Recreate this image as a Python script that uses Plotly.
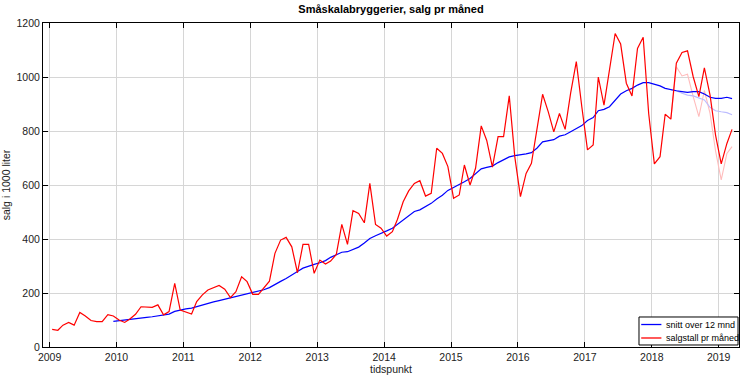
import pandas as pd
import plotly.graph_objects as go

title = "Småskalabryggerier, salg pr måned"
x_title = "tidspunkt"
y_title = "salg i 1000 liter"
name_avg = "snitt over 12 mnd"
name_sales = "salgstall pr måned"

# monthly sales, Jan 2009 - Mar 2019 (1000 liter)
sales = [
    65, 62, 81, 91, 81, 128, 115, 98, 94, 94, 120, 115,
    100, 91, 104, 121, 149, 149, 147, 156, 119, 131, 236, 137,
    130, 122, 168, 193, 211, 221, 228, 214, 183, 205, 260, 242,
    195, 195, 217, 244, 347, 396, 406, 371, 275, 380, 380, 273,
    322, 307, 318, 343, 454, 380, 505, 495, 460, 606, 454, 440,
    411, 427, 473, 538, 578, 606, 616, 559, 569, 736, 717, 668,
    551, 563, 674, 600, 662, 819, 765, 666, 779, 779, 930, 705,
    557, 643, 680, 812, 936, 871, 797, 865, 806, 940, 1057, 890,
    730, 748, 1000, 896, 1026, 1161, 1122, 977, 930, 1106, 1147, 865,
    678, 705, 862, 844, 1051, 1091, 1097, 1001, 927, 1034, 933, 785,
    678, 754, 806,
]

# 12-month average, Dec 2009 - Mar 2019
avg12 = [
    95,
    98, 101, 103, 105, 107, 110, 112, 115, 119, 122, 132, 137,
    141, 144, 150, 156, 162, 167, 172, 177, 182, 186, 190, 197,
    202, 206, 212, 220, 230, 243, 254, 268, 280, 292, 300, 306,
    312, 320, 332, 343, 351, 353, 360, 370, 385, 402, 412, 420,
    430, 440, 455, 472, 488, 502, 508, 520, 532, 548, 562, 580,
    590, 600, 612, 624, 640, 660, 665, 670, 683, 692, 704, 709,
    711, 715, 720, 737, 760, 764, 768, 781, 786, 797, 808, 820,
    839, 850, 875, 880, 890, 915, 937, 949, 958, 970, 979, 979,
    973, 967, 958, 952, 949, 946, 943, 946, 946, 937, 925, 921,
    921, 925, 920,
]

# earlier (lighter) version of the last year, Apr 2018 - Mar 2019
sales_old = [844, 1038, 1004, 1010, 927, 853, 950, 865, 726, 619, 717, 742]
avg12_old = [952, 949, 940, 933, 930, 923, 915, 888, 875, 871, 868, 860]

year_ticks = [str(y) for y in range(2009, 2020)]
y_ticks = [0, 200, 400, 600, 800, 1000, 1200]

months = pd.date_range("2009-01-01", periods=len(sales), freq="MS") + pd.Timedelta(days=14)
avg_months = months[len(sales) - len(avg12):]
old_months = months[len(sales) - len(sales_old):]

blue = "#0000ff"
red = "#ff0000"

fig = go.Figure()
fig.add_trace(go.Scatter(x=old_months, y=sales_old, mode="lines", showlegend=False,
                         line=dict(color="#ffbcbc", width=1.1), hoverinfo="skip"))
fig.add_trace(go.Scatter(x=old_months, y=avg12_old, mode="lines", showlegend=False,
                         line=dict(color="#bcbcff", width=1.1), hoverinfo="skip"))
fig.add_trace(go.Scatter(x=avg_months, y=avg12, mode="lines", name=name_avg,
                         showlegend=False, line=dict(color=blue, width=1.2)))
fig.add_trace(go.Scatter(x=months, y=sales, mode="lines", name=name_sales,
                         showlegend=False, line=dict(color=red, width=1.2)))

# compact legend box (bottom right, inside the plot area)
legend_items = [(name_avg, blue), (name_sales, red)]
box_x0, box_x1, box_y0, box_y1 = 0.8563, 0.9986, 0.0062, 0.0926
fig.add_shape(type="rect", xref="paper", yref="paper",
              x0=box_x0, x1=box_x1, y0=box_y0, y1=box_y1,
              line=dict(color="#000000", width=1), fillcolor="white", layer="above")
for i, (label, color) in enumerate(legend_items):
    yy = 0.0694 - i * 0.0416
    fig.add_shape(type="line", xref="paper", yref="paper",
                  x0=0.8595, x1=0.8885, y0=yy, y1=yy,
                  line=dict(color=color, width=1.3), layer="above")
    fig.add_annotation(xref="paper", yref="paper", x=0.8925, y=yy, text=label,
                       showarrow=False, xanchor="left", yanchor="middle",
                       font=dict(size=9, color="#000000"))

font_family = "Liberation Sans, Arial, sans-serif"
fig.update_layout(
    width=742, height=377,
    margin=dict(l=43, r=3, t=23, b=30),
    paper_bgcolor="white", plot_bgcolor="white",
    font=dict(family=font_family, size=10.5, color="#222222"),
    title=dict(text="<b>" + title + "</b>", x=(43 + 739) / 2 / 742, xanchor="center",
               y=1 - 9 / 377, yanchor="middle", font=dict(size=11, color="#000000")),
    showlegend=False,
)
fig.update_xaxes(
    type="date",
    range=["2008-11-26", "2019-04-22"],
    tickvals=[pd.Timestamp(f"{y}-01-01") for y in year_ticks],
    ticktext=year_ticks,
    showgrid=True, gridcolor="#d6d6d6", gridwidth=1,
    showline=True, linecolor="#000000", linewidth=1, mirror="ticks",
    ticks="inside", ticklen=5, tickcolor="#000000",
    zeroline=False, automargin=False,
    title=dict(text=x_title, font=dict(size=10.5), standoff=1),
)
fig.update_yaxes(
    range=[0, 1200],
    tickvals=y_ticks,
    showgrid=True, gridcolor="#d6d6d6", gridwidth=1,
    showline=True, linecolor="#000000", linewidth=1, mirror="ticks",
    ticks="inside", ticklen=5, tickcolor="#000000",
    zeroline=False, automargin=False,
    title=dict(text=y_title, font=dict(size=10.5), standoff=4),
)

fig.write_html("out.html", config={"displayModeBar": False},
               post_script="document.body.style.margin='0';document.body.style.overflow='hidden';")
